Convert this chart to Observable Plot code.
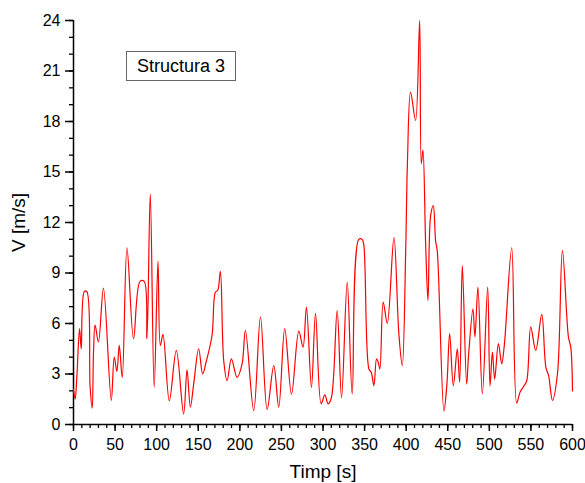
<!DOCTYPE html>
<html>
<head>
<meta charset="utf-8">
<script src="https://cdn.jsdelivr.net/npm/d3@7"></script>
<script src="https://cdn.jsdelivr.net/npm/@observablehq/plot@0.6"></script>
<style>
  html, body { margin: 0; padding: 0; background: #fff; }
  #wrap { position: relative; width: 585px; height: 483px; }
  #legend {
    position: absolute; left: 126px; top: 51px; width: 110px; height: 30px;
    border: 1px solid #666; box-sizing: border-box; background: #fff;
    font-family: "Liberation Sans", Arial, sans-serif; font-size: 18px;
    display: flex; align-items: center; justify-content: center; color: #000;
  }
  g[aria-label="x-axis label"], g[aria-label="y-axis label"] { font-size: 19px; }
</style>
</head>
<body>
<div id="wrap"><div id="legend">Structura 3</div></div>
<script>
const times = [0, 2, 4, 7.3, 9.3, 13, 16, 20, 22.5, 24, 26, 30, 36, 45.4, 49, 52.2, 55, 58.6, 64.3, 72.2, 80, 85, 88.3, 92.3, 97, 101.6, 104.4, 107.6, 115.2, 123.6, 132.4, 136.5, 140.5, 144.5, 150.5, 155.3, 159.4, 166.6, 170.6, 173.4, 176.6, 180.6, 184.7, 189.8, 196.7, 202.7, 206.7, 216.7, 224.8, 232.8, 240.8, 246.8, 254, 262.1, 270.9, 276, 280.1, 286.1, 291, 297.8, 302.2, 306.2, 310.2, 317, 322.3, 329.1, 335.1, 343, 347, 349, 355.2, 358, 361.2, 364.4, 366.4, 368.4, 372.4, 377.3, 385.3, 391.2, 395.3, 399.5, 401.5, 405.3, 411.3, 416.2, 418.2, 420.2, 423.4, 426.2, 429.4, 432.6, 435.4, 437.4, 445.4, 449, 452.3, 456.7, 461.5, 464.3, 467.5, 472.7, 475, 480.3, 482.7, 486.3, 491.6, 498, 500.8, 503.7, 506.4, 510.9, 514.9, 518, 526.9, 532.9, 536.9, 541.7, 545, 549.8, 555.8, 563, 568, 571.3, 575.9, 581.9, 587.9, 595.1, 597.9, 600];
const speeds = [2.1, 1.5, 2.8, 5.7, 4.5, 7.9, 7.9, 2.2, 0.97, 4.2, 5.9, 4.9, 8.1, 1.43, 4.0, 3.15, 4.7, 2.8, 10.5, 5.1, 8.5, 8.5, 5.1, 13.7, 2.2, 9.7, 4.7, 5.35, 1.4, 4.4, 0.63, 3.25, 1.03, 2.4, 4.5, 3.0, 3.7, 5.3, 7.86, 7.96, 9.1, 3.8, 2.6, 3.9, 2.8, 3.6, 5.6, 0.83, 6.4, 0.89, 3.5, 1.03, 5.7, 1.8, 5.55, 4.6, 6.97, 2.2, 6.6, 1.23, 1.76, 1.23, 1.62, 6.77, 1.58, 8.46, 1.82, 11.0, 11.0, 10.7, 3.3, 3.1, 2.3, 3.9, 3.7, 3.3, 7.27, 6.0, 11.1, 5.4, 3.5, 10.5, 15.5, 19.75, 18.06, 24.0, 15.5, 16.3, 10.75, 7.37, 12.4, 13.0, 10.9, 10.3, 0.8, 2.4, 5.4, 2.3, 4.5, 2.5, 9.45, 2.4, 4.1, 6.87, 5.2, 8.16, 1.82, 8.16, 2.3, 4.3, 2.7, 4.8, 3.6, 4.7, 10.5, 1.27, 1.92, 2.3, 2.6, 5.8, 4.4, 6.54, 3.4, 2.9, 1.43, 3.0, 10.34, 5.2, 4.6, 2.0];
const xMajor = [0, 50, 100, 150, 200, 250, 300, 350, 400, 450, 500, 550, 600];
const xMinor = d3.range(0, 601, 10);
const yMajor = [0, 3, 6, 9, 12, 15, 18, 21, 24];
const yMinor = d3.range(0, 25, 1);

const data = times.map((t, i) => ({t, v: speeds[i]}));

const chart = Plot.plot({
  width: 585,
  height: 483,
  marginLeft: 73,
  marginRight: 13,
  marginTop: 20,
  marginBottom: 59,
  style: {fontFamily: "'Liberation Sans', Arial, sans-serif", fontSize: "16px", color: "#000", background: "transparent"},
  x: {domain: [0, 600]},
  y: {domain: [0, 24]},
  marks: [
    Plot.axisX(xMinor, {tickSize: 4, tickFormat: () => "", label: null, strokeWidth: 1.3}),
    Plot.axisX(xMajor, {tickSize: 7, tickPadding: 7, strokeWidth: 1.5, label: "Timp [s]", labelAnchor: "center", labelOffset: 53, labelArrow: "none"}),
    Plot.axisY(yMinor, {tickSize: 4, tickFormat: () => "", label: null, strokeWidth: 1.3}),
    Plot.axisY(yMajor, {tickSize: 8, tickPadding: 5, strokeWidth: 1.5, label: "V [m/s]", labelAnchor: "center", labelOffset: 62, labelArrow: "none"}),
    Plot.ruleX([0], {stroke: "#000", strokeWidth: 1.5}),
    Plot.ruleY([0], {stroke: "#000", strokeWidth: 1.5}),
    Plot.line(data, {x: "t", y: "v", stroke: "#ff0000", strokeWidth: 1.2, curve: "catmull-rom"})
  ]
});
document.getElementById("wrap").prepend(chart);
</script>
</body>
</html>
